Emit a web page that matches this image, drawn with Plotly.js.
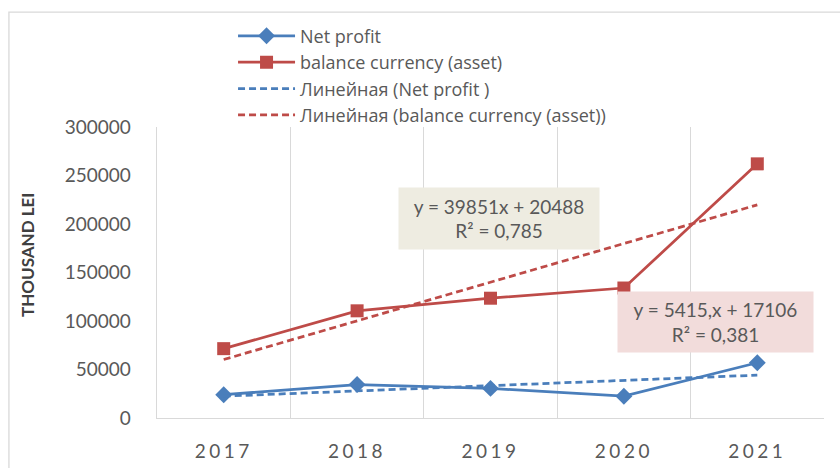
<!DOCTYPE html>
<html>
<head>
<meta charset="utf-8">
<script src="https://cdn.plot.ly/plotly-3.0.1.min.js"></script>
<style>
html,body{margin:0;padding:0;background:#fff;}
#chart{width:840px;height:468px;}
.xtick text{letter-spacing:3.5px;}
</style>
</head>
<body>
<div id="chart"></div>
<script>
// ---- data ----
var years = ['2017', '2018', '2019', '2020', '2021'];
var netProfit = [24000, 34500, 30500, 22500, 57000];
var balanceCurrency = [71500, 110500, 123500, 134000, 262000];
var trendYears = ['2017', '2021'];
var netProfitTrend = [22500, 44200];
var balanceTrend = [60300, 219700];
var seriesNames = ['Net profit', 'balance currency (asset)', 'Линейная (Net profit )', 'Линейная (balance currency (asset))'];
var yTickVals = [0, 50000, 100000, 150000, 200000, 250000, 300000];
var yTickText = ['0', '50000', '100000', '150000', '200000', '250000', '300000'];
var yTitle = 'THOUSAND LEI';
var eqBalance = 'y = 39851x + 20488<br>R² = 0,785';
var eqNet = 'y = 5415,x + 17106<br>R² = 0,381';

var blue = '#4A7EBB', red = '#BE4B48', grey = '#595959';
var FONT = 'Lato, "Open Sans", sans-serif';
var LFONT = '"Open Sans", Lato, sans-serif';

var traces = [
  {x: years, y: netProfit, name: seriesNames[0], type: 'scatter', mode: 'lines+markers',
   line: {color: blue, width: 2.75}, marker: {symbol: 'diamond', size: 13, color: blue}, legendgroup: 'a'},
  {x: years, y: balanceCurrency, name: seriesNames[1], type: 'scatter', mode: 'lines+markers',
   line: {color: red, width: 2.75}, marker: {symbol: 'square', size: 13, color: red}, legendgroup: 'b'},
  {x: trendYears, y: netProfitTrend, name: seriesNames[2], type: 'scatter', mode: 'lines',
   line: {color: blue, width: 2.75, dash: '7px,4px'}, legendgroup: 'c'},
  {x: trendYears, y: balanceTrend, name: seriesNames[3], type: 'scatter', mode: 'lines',
   line: {color: red, width: 2.75, dash: '7px,4px'}, legendgroup: 'd'}
];

var layout = {
  width: 840, height: 468,
  margin: {l: 157, r: 16, t: 127, b: 50},
  paper_bgcolor: '#fff', plot_bgcolor: '#fff',
  font: {family: FONT, color: grey, size: 18},
  showlegend: true,
  legend: {x: 0.114, y: 1.376, xanchor: 'left', yanchor: 'top', bgcolor: 'rgba(0,0,0,0)',
           font: {family: LFONT, size: 18, color: grey}, traceorder: 'grouped', tracegroupgap: 0,
           itemwidth: 57},
  xaxis: {type: 'category', range: [-0.5, 4.5], tickson: 'boundaries', showgrid: true, gridcolor: '#D9D9D9', gridwidth: 1.3,
          showline: true, linecolor: '#D9D9D9', linewidth: 1.3, ticks: '', zeroline: false,
          tickfont: {family: FONT, size: 19, color: grey}, ticklabelstandoff: 16, fixedrange: true},
  yaxis: {range: [0, 300000], tickvals: yTickVals, ticktext: yTickText, showgrid: false,
          showline: true, linecolor: '#D9D9D9', linewidth: 1.3, zeroline: false, ticks: '',
          tickfont: {family: FONT, size: 19, color: grey}, ticklabelstandoff: 21},
  shapes: [
    {type: 'rect', xref: 'paper', yref: 'paper', x0: -0.222, x1: 1.2, y0: -0.5, y1: 1.395,
     line: {color: '#D9D9D9', width: 1.3}, fillcolor: 'rgba(0,0,0,0)', layer: 'below'}
  ],
  annotations: [
    {xref: 'paper', yref: 'paper', x: -0.195, y: 0.56, xanchor: 'center', yanchor: 'middle', textangle: -90,
     text: yTitle, showarrow: false, font: {family: FONT, size: 17, color: '#404040', weight: 'bold'}},
    {xref: 'paper', yref: 'paper', x: 0.5127, y: 0.687, xanchor: 'center', yanchor: 'middle',
     text: eqBalance, showarrow: false, bgcolor: '#EEECE1', width: 198, height: 59,
     font: {family: FONT, size: 19, color: grey}},
    {xref: 'paper', yref: 'paper', x: 0.838, y: 0.33, xanchor: 'center', yanchor: 'middle',
     text: eqNet, showarrow: false, bgcolor: '#F2DCDB', width: 193, height: 58,
     font: {family: FONT, size: 19, color: grey}}
  ]
};

Plotly.newPlot('chart', traces, layout, {displayModeBar: false, staticPlot: true});
</script>
</body>
</html>
